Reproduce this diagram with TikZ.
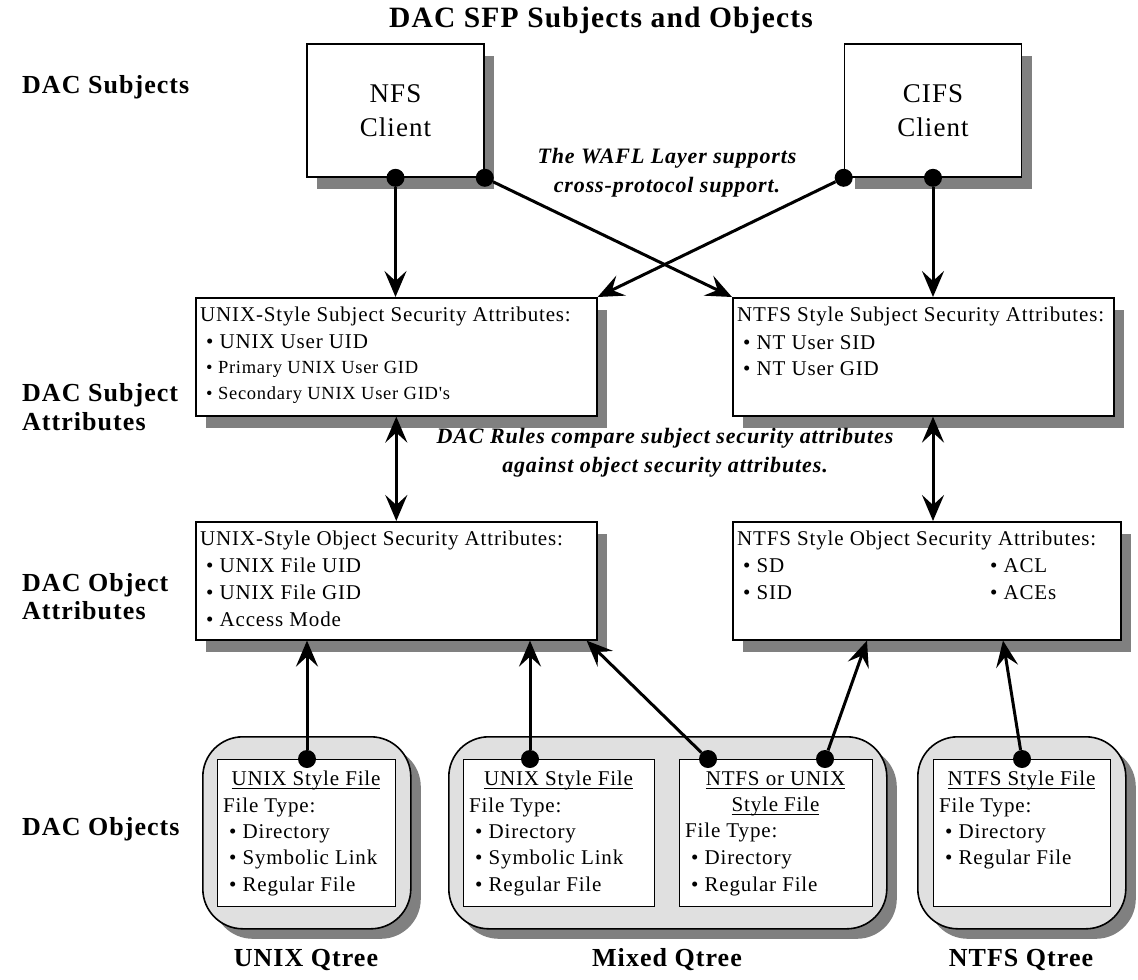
\documentclass[tikz,border=0pt]{standalone}
\usepackage{fontspec}
\setmainfont{Liberation Serif}
\newfontfamily\bxfont[LetterSpace=4]{Liberation Serif}
\usetikzlibrary{arrows.meta,shadows,calc}
\definecolor{shadowgray}{HTML}{808080}
\definecolor{qfill}{HTML}{E0E0E0}
\newcommand{\myul}[1]{\setbox0\hbox{#1}\rlap{\vrule width\wd0 height -2pt depth 3.4pt}\box0}
\begin{document}
\begin{tikzpicture}[x=1pt,y=-1pt,
  box/.style={draw, line width=1.6pt, fill=white, inner sep=0pt,
    drop shadow={shadow xshift=10pt,shadow yshift=-12pt,opacity=1,fill=shadowgray}},
  qbox/.style={draw, line width=1.6pt, fill=qfill, rounded corners=40pt, inner sep=0pt,
    drop shadow={shadow xshift=10pt,shadow yshift=-10pt,opacity=1,fill=shadowgray}},
  ibox/.style={draw, line width=1.4pt, fill=white, inner sep=0pt},
  txt/.style={inner sep=0pt, font=\bxfont\fontsize{21}{25}\selectfont, text height=15pt, text depth=4pt},
  stxt/.style={inner sep=0pt, font=\bxfont\fontsize{18.5}{22}\selectfont, text height=13pt, text depth=3.5pt},
  lab/.style={inner sep=0pt, font=\bxfont\bfseries\fontsize{26}{30}\selectfont, text height=18pt, text depth=5pt},
  ttl/.style={inner sep=0pt, font=\bxfont\bfseries\fontsize{29.5}{33}\selectfont, text height=20pt, text depth=6pt},
  ital/.style={inner sep=0pt, align=center, font=\bxfont\bfseries\itshape\fontsize{22}{29}\selectfont},
  client/.style={box, minimum width=177pt, minimum height=133pt, align=center,
    font=\bxfont\fontsize{27}{34}\selectfont},
  dot/.style={circle, fill=black, minimum size=18pt, inner sep=0pt},
  arr/.style={line width=3pt, -{Stealth[length=26pt,width=22pt,inset=10pt]}},
  darr/.style={line width=3pt, {Stealth[length=26pt,width=22pt,inset=10pt]}-{Stealth[length=26pt,width=22pt,inset=10pt]}}
]
\useasboundingbox (0,0) rectangle (1138,980);

% title and row labels
\node[ttl] (title) at (601,20) {DAC SFP Subjects and Objects};
\node[lab, anchor=west] (l1) at (22,87) {DAC Subjects};
\node[lab, anchor=west] (l2a) at (22,395) {DAC Subject};
\node[lab, anchor=west] (l2b) at (22,424) {Attributes};
\node[lab, anchor=west] (l3a) at (22,585) {DAC Object};
\node[lab, anchor=west] (l3b) at (22,613) {Attributes};
\node[lab, anchor=west] (l4) at (22,829) {DAC Objects};

% clients
\node[client] (nfs) at (395.5,110.5) {NFS\\Client};
\node[client] (cifs) at (933,110.5) {CIFS\\Client};

% subject attribute boxes
\node[box, anchor=north west, minimum width=401pt, minimum height=118pt] (us) at (195,297) {};
\node[box, anchor=north west, minimum width=381pt, minimum height=118pt] (ns) at (732,297) {};
\node[txt, anchor=west] (us1) at (200,316) {UNIX-Style Subject Security Attributes:};
\node[txt, anchor=west] (us2) at (206,343) {• UNIX User UID};
\node[stxt, anchor=west] (us3) at (206,369) {• Primary UNIX User GID};
\node[stxt, anchor=west] (us4) at (206,395) {• Secondary UNIX User GID's};
\node[txt, anchor=west] (ns1) at (737,316) {NTFS Style Subject Security Attributes:};
\node[txt, anchor=west] (ns2) at (743,344) {• NT User SID};
\node[txt, anchor=west] (ns3) at (743,370) {• NT User GID};

% object attribute boxes
\node[box, anchor=north west, minimum width=401pt, minimum height=118pt] (uo) at (195,521) {};
\node[box, anchor=north west, minimum width=388pt, minimum height=118pt] (no) at (732,521) {};
\node[txt, anchor=west] (uo1) at (200,540) {UNIX-Style Object Security Attributes:};
\node[txt, anchor=west] (uo2) at (206,567) {• UNIX File UID};
\node[txt, anchor=west] (uo3) at (206,594) {• UNIX File GID};
\node[txt, anchor=west] (uo4) at (206,621) {• Access Mode};
\node[txt, anchor=west] (no1) at (737,540) {NTFS Style Object Security Attributes:};
\node[txt, anchor=west] (no2) at (743,567) {• SD};
\node[txt, anchor=west] (no3) at (990,567) {• ACL};
\node[txt, anchor=west] (no4) at (743,594) {• SID};
\node[txt, anchor=west] (no5) at (990,594) {• ACEs};

% middle notes
\node[ital] (wafl) at (667,173) {The WAFL Layer supports\\cross-protocol support.};
\node[ital] (rules) at (665,453) {DAC Rules compare subject security attributes\\against object security attributes.};

% qtrees
\node[qbox, anchor=north west, minimum width=208pt, minimum height=192pt] (uq) at (202,736) {};
\node[qbox, anchor=north west, minimum width=438pt, minimum height=192pt] (mq) at (448,736) {};
\node[qbox, anchor=north west, minimum width=208pt, minimum height=192pt] (nq) at (917,736) {};
\node[ibox, anchor=north west, minimum width=178pt, minimum height=147pt] (uqi) at (217,759) {};
\node[ibox, anchor=north west, minimum width=191pt, minimum height=147pt] (mqa) at (463,759) {};
\node[ibox, anchor=north west, minimum width=193pt, minimum height=147pt] (mqb) at (679,759) {};
\node[ibox, anchor=north west, minimum width=177pt, minimum height=147pt] (nqi) at (933,759) {};

\node[txt] (uqt1) at (306,780) {\myul{UNIX Style File}};
\node[txt, anchor=west] (uqt2) at (223,807) {File Type:};
\node[txt, anchor=west] (uqt3) at (229,833) {• Directory};
\node[txt, anchor=west] (uqt4) at (229,859) {• Symbolic Link};
\node[txt, anchor=west] (uqt5) at (229,886) {• Regular File};

\node[txt] (mat1) at (558.5,780) {\myul{UNIX Style File}};
\node[txt, anchor=west] (mat2) at (469,807) {File Type:};
\node[txt, anchor=west] (mat3) at (475,833) {• Directory};
\node[txt, anchor=west] (mat4) at (475,859) {• Symbolic Link};
\node[txt, anchor=west] (mat5) at (475,886) {• Regular File};

\node[txt] (mbt1) at (775.5,780) {\myul{NTFS or UNIX}};
\node[txt] (mbt2) at (775.5,806) {\myul{Style File}};
\node[txt, anchor=west] (mbt3) at (685,832) {File Type:};
\node[txt, anchor=west] (mbt4) at (691,859) {• Directory};
\node[txt, anchor=west] (mbt5) at (691,886) {• Regular File};

\node[txt] (nqt1) at (1021.5,780) {\myul{NTFS Style File}};
\node[txt, anchor=west] (nqt2) at (939,807) {File Type:};
\node[txt, anchor=west] (nqt3) at (945,833) {• Directory};
\node[txt, anchor=west] (nqt4) at (945,859) {• Regular File};

\node[lab] (uql) at (306,960) {UNIX Qtree};
\node[lab] (mql) at (667,960) {Mixed Qtree};
\node[lab] (nql) at (1021,960) {NTFS Qtree};

% dots
\node[dot] (d1) at (nfs.south) {};
\node[dot] (d2) at (nfs.south east) {};
\node[dot] (d3) at (cifs.south west) {};
\node[dot] (d4) at (cifs.south) {};
\node[dot] (q1) at (307,759) {};
\node[dot] (q2) at (530,759) {};
\node[dot] (q3) at (708,759) {};
\node[dot] (q4) at (825,759) {};
\node[dot] (q5) at (1022,759) {};

\coordinate (t3) at ($(uo.south east)+(-11,0)$);
\coordinate (t4) at ($(no.south west)+(135,0)$);
\coordinate (t5) at ($(no.south west)+(271,0)$);

% connectors
\draw[arr] (d1) -- (d1 |- us.north);
\draw[arr] (d4) -- (d4 |- ns.north);
\draw[arr] (d2) -- (ns.north west);
\draw[arr] (d3) -- (us.north east);
\draw[darr] (us.south) -- (uo.north);
\draw[darr] (d4 |- ns.south) -- (d4 |- no.north);
\draw[arr] (q1) -- (q1 |- uo.south);
\draw[arr] (q2) -- (q2 |- uo.south);
\draw[arr] (q3) -- (t3);
\draw[arr] (q4) -- (t4);
\draw[arr] (q5) -- (t5);
\end{tikzpicture}
\end{document}
